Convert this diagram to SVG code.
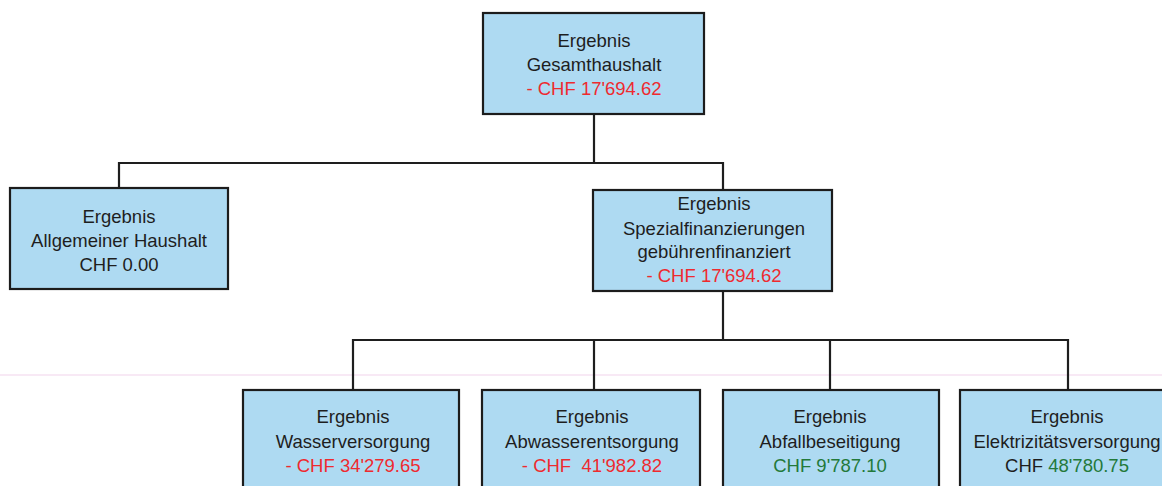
<svg xmlns="http://www.w3.org/2000/svg" width="1162" height="486" viewBox="0 0 1162 486">
<style>
.box{fill:#AEDAF2;stroke:#1c1c1c;stroke-width:2.2}
.t{font-family:"Liberation Sans",Arial,sans-serif;font-size:18.5px;fill:#1e1e1e;text-anchor:middle}
.red{fill:#EE2A2F}
.grn{fill:#23793A}
.c{fill:none;stroke:#1e1e1e;stroke-width:2.2}
</style>
<rect width="1162" height="486" fill="#ffffff"/>
<line x1="0" y1="375" x2="1162" y2="375" stroke="#F6E2F2" stroke-width="1.5"/>
<g id="connectors">
<polyline class="c" points="594,114 594,163"/>
<polyline class="c" points="119,188 119,163 723,163 723,189"/>
<polyline class="c" points="723,291 723,340"/>
<polyline class="c" points="353,390 353,340 1068,340 1068,390"/>
<line class="c" x1="594" y1="340" x2="594" y2="390"/>
<line class="c" x1="830" y1="340" x2="830" y2="390"/>
</g>
<g id="n-gesamt">
<rect class="box" x="483" y="13" width="221" height="101"/>
<text class="t" x="594" y="47">Ergebnis</text>
<text class="t" x="594" y="71">Gesamthaushalt</text>
<text class="t red" x="594" y="95">- CHF 17'694.62</text>
</g>
<g id="n-allgemein">
<rect class="box" x="10" y="188" width="218" height="101"/>
<text class="t" x="119" y="223">Ergebnis</text>
<text class="t" x="119" y="247">Allgemeiner Haushalt</text>
<text class="t" x="119" y="271">CHF 0.00</text>
</g>
<g id="n-spezial">
<rect class="box" x="593" y="190" width="239" height="101"/>
<text class="t" x="714" y="210">Ergebnis</text>
<text class="t" x="714" y="235">Spezialfinanzierungen</text>
<text class="t" x="714" y="258">gebührenfinanziert</text>
<text class="t red" x="714" y="282">- CHF 17'694.62</text>
</g>
<g id="n-wasser">
<rect class="box" x="243" y="390" width="216" height="110"/>
<text class="t" x="353" y="423">Ergebnis</text>
<text class="t" x="353" y="448">Wasserversorgung</text>
<text class="t red" x="353" y="472">- CHF 34'279.65</text>
</g>
<g id="n-abwasser">
<rect class="box" x="482" y="390" width="218" height="110"/>
<text class="t" x="592" y="423">Ergebnis</text>
<text class="t" x="592" y="448">Abwasserentsorgung</text>
<text class="t red" x="592" y="472" xml:space="preserve" style="white-space:pre">- CHF  41'982.82</text>
</g>
<g id="n-abfall">
<rect class="box" x="723" y="390" width="216" height="110"/>
<text class="t" x="830" y="423">Ergebnis</text>
<text class="t" x="830" y="448">Abfallbeseitigung</text>
<text class="t grn" x="830" y="472">CHF 9'787.10</text>
</g>
<g id="n-elektrizitaet">
<rect class="box" x="960" y="390" width="218" height="110"/>
<text class="t" x="1067" y="423">Ergebnis</text>
<text class="t" x="1067" y="448">Elektrizitätsversorgung</text>
<text class="t" x="1067" y="472">CHF <tspan class="grn">48'780.75</tspan></text>
</g>
</svg>
